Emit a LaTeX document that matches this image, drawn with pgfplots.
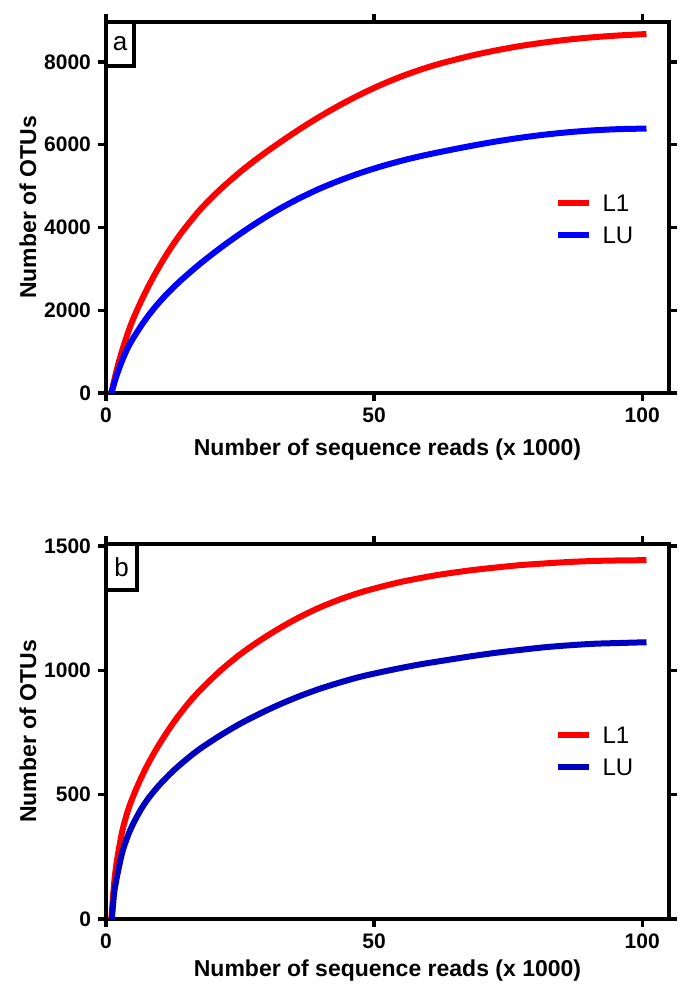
\documentclass[border=0pt]{standalone}
\usepackage{pgfplots}
\pgfplotsset{compat=1.18}
\usepackage{fontspec}
\setmainfont{Liberation Sans}
\definecolor{cred}{RGB}{255,0,0}
\definecolor{cblue}{RGB}{0,0,255}
\definecolor{cdblue}{RGB}{0,0,192}
\pgfplotsset{
  myaxis/.style={
    scale only axis,
    width=281.5pt,
    xmin=0, xmax=105,
    ymin=0,
    xtick={0,50,100},
    axis line style={line width=1.7pt},
    tick style={line width=1.7pt, black},
    major tick length=4pt,
    tick align=outside,
    xtick pos=both, ytick pos=both,
    /pgf/number format/assume math mode=true,
    /pgf/number format/1000 sep={},
    ticklabel style={font=\bfseries\fontsize{10.5}{12}\selectfont},
    label style={font=\bfseries\fontsize{11.5}{13}\selectfont},
    xlabel={Number of sequence reads (x 1000)},
    ylabel={Number of OTUs},
    ylabel style={at={([xshift=-39pt]rel axis cs:0,0.5)}, anchor=center},
    scaled y ticks=false,
    legend cell align=left,
    legend image code/.code={\draw[##1,line width=3pt] (0pt,0pt) -- (15.5pt,0pt);},
    legend style={draw=none, fill=none, inner sep=0pt, row sep=7.4pt, column sep=5.5pt,
      font=\fontsize{12}{14}\selectfont, anchor=west,
      nodes={inner sep=0pt, text height=8.6pt, text depth=0pt}},
    every axis plot/.append style={line width=3pt, smooth},
  }
}
\begin{document}
\begin{tikzpicture}
\useasboundingbox (0,0) rectangle (341pt,-492pt);
\begin{axis}[myaxis,
  at={(53pt,-196.5pt)}, anchor=south west,
  height=185.5pt, ymax=8966,
  ytick={0,2000,4000,6000,8000},
  xlabel style={at={([yshift=-28.5pt]rel axis cs:0.5,0)}, anchor=center},
  legend style={at={(rel axis cs:0.796,0.469)}},
]
\addplot[cred] coordinates {
(1,0) (2,560) (3,1020) (4,1420) (5.1,1800) (7,2342) (9,2842) (11.3,3348) (14,3861) (17.5,4421)
(21,4883) (25,5339) (28.7,5713) (32.5,6062) (36.2,6384) (39.9,6682) (43.6,6956) (47.4,7213)
(51.1,7437) (54.9,7640) (58.6,7812) (62.3,7960) (67.9,8145) (72.5,8274) (77.2,8384) (81.9,8473)
(86.6,8546) (91.2,8601) (95.9,8643) (100.8,8675)};
\addlegendentry{L1}
\addplot[cblue] coordinates {
(1,0) (2,430) (3,780) (4,1075) (5.1,1330) (7,1709) (9,2052) (11.3,2386) (14,2726) (17.5,3118)
(21.3,3502) (25,3846) (28.7,4164) (32.5,4460) (36.2,4715) (39.9,4941) (43.6,5137) (47.4,5316)
(51.1,5468) (54.9,5605) (58.6,5722) (62.3,5824) (67.9,5967) (72.5,6073) (77.2,6167) (81.9,6245)
(86.6,6306) (91.2,6350) (95.9,6378) (100.8,6390)};
\addlegendentry{LU}
\node[draw, line width=2pt, minimum width=14pt, minimum height=22pt, inner sep=0pt, outer sep=0pt,
  anchor=north west, font=\fontsize{13}{14}\selectfont] at (rel axis cs:0,1) {a};
\end{axis}
\begin{axis}[myaxis,
  at={(53pt,-459.5pt)}, anchor=south west,
  height=187.5pt, ymax=1508,
  ytick={0,500,1000,1500},
  xlabel style={at={([yshift=-26pt]rel axis cs:0.5,0)}, anchor=center},
  legend style={at={(rel axis cs:0.796,0.449)}},
]
\addplot[cred] coordinates {
(1,0) (1.5,140) (2,230) (3,350) (4,430) (5,490) (6.5,565) (8,630) (10,705) (12.5,787) (15,858)
(17.5,919) (21.3,998) (25,1064) (28.7,1120) (32.5,1171) (36.2,1215) (39.9,1253) (43.6,1285)
(47.4,1313) (51.1,1335) (54.9,1355) (58.6,1371) (62.3,1385) (67.9,1402) (72.5,1413) (77.2,1423)
(81.9,1430) (86.6,1436) (91.2,1440) (95.9,1442) (100.8,1443)};
\addlegendentry{L1}
\addplot[cdblue] coordinates {
(1.1,0) (1.5,100) (2,165) (3,265) (4,330) (5,380) (6.5,440) (8,488) (10,540) (12.5,595) (15,642)
(17.5,684) (21.3,738) (25,785) (28.7,826) (32.5,864) (36.2,897) (39.9,926) (43.6,951) (47.4,974)
(51.1,992) (54.9,1009) (58.6,1024) (62.3,1037) (67.9,1056) (72.5,1070) (77.2,1082) (81.9,1093)
(86.6,1101) (91.2,1107) (95.9,1110) (100.8,1113)};
\addlegendentry{LU}
\node[draw, line width=2pt, minimum width=15.5pt, minimum height=23pt, inner sep=0pt, outer sep=0pt,
  anchor=north west, font=\fontsize{13}{14}\selectfont] at (rel axis cs:0,1) {b};
\end{axis}
\end{tikzpicture}
\end{document}
